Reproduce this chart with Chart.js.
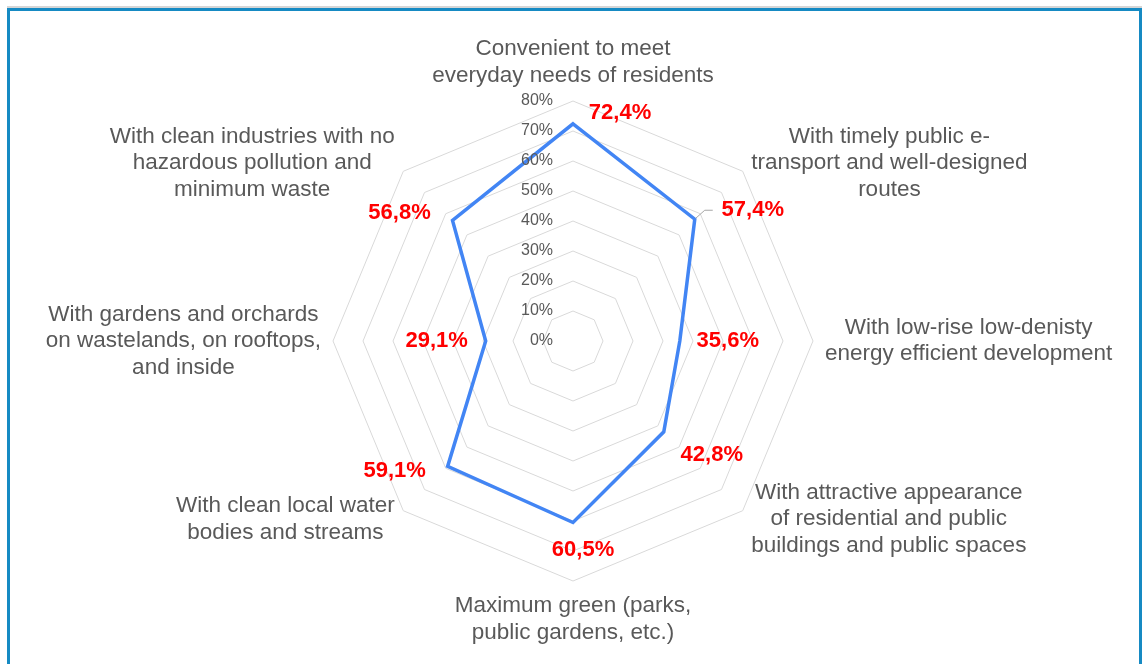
<!DOCTYPE html>
<html>
<head>
<meta charset="utf-8">
<script src="https://cdn.jsdelivr.net/npm/chart.js@4.4.0/dist/chart.umd.min.js"></script>
<style>
  html, body { margin: 0; padding: 0; background: #fff; overflow: hidden; }
  #wrap { position: relative; width: 1144px; height: 664px; }
  #frame { position: absolute; left: 7px; top: 8px; width: 1129px; height: 700px;
           border: 3px solid #168ac3; box-shadow: 0 -2px 0 #d6d6d6; }
  canvas { position: absolute; left: 0; top: 0; }
</style>
</head>
<body>
<div id="wrap">
  <div id="frame"></div>
  <canvas id="radar" width="1144" height="664"></canvas>
</div>
<script>
'use strict';

// ── Data ─────────────────────────────────────────────────────────
const categories = [
  ['Convenient to meet', 'everyday needs of residents'],
  ['With timely public e-', 'transport and well-designed', 'routes'],
  ['With low-rise low-denisty', 'energy efficient development'],
  ['With attractive appearance', 'of residential and public', 'buildings and public spaces'],
  ['Maximum green (parks,', 'public gardens, etc.)'],
  ['With clean local water', 'bodies and streams'],
  ['With gardens and orchards', 'on wastelands, on rooftops,', 'and inside'],
  ['With clean industries with no', 'hazardous pollution and', 'minimum waste']
];
const shares = [72.4, 57.4, 35.6, 42.8, 60.5, 59.1, 29.1, 56.8];
const scaleMin = 0, scaleMax = 80, scaleStep = 10;

// value label offsets from each vertex (px) and which ones get a leader line
const labelOffsets = [[47, -11], [58, -9], [48, 0], [48, 23], [10, 27], [-53, 5], [-49, 0], [-53, -8]];
const leaderLines = [1];

const FONT = '"Liberation Sans", Arial, sans-serif';
const GREY = '#595959';

const fmt = v => v.toFixed(1).replace('.', ',') + '%';

// ── Axis text: tick labels left of the vertical axis, centred category labels ──
const axisText = {
  id: 'axisText',
  afterDraw(chart) {
    const r = chart.scales.r, ctx = chart.ctx;
    ctx.save();
    ctx.fillStyle = GREY;
    ctx.font = `16px ${FONT}`;
    ctx.textAlign = 'right';
    ctx.textBaseline = 'middle';
    r.ticks.forEach(t => {
      const y = r.yCenter - r.getDistanceFromCenterForValue(t.value);
      ctx.fillText(t.value + '%', r.xCenter - 20, y);
    });

    ctx.font = `22.5px ${FONT}`;
    ctx.textAlign = 'center';
    const lh = 26.5;
    categories.forEach((lines, i) => {
      const p = r.getPointPosition(i, r.drawingArea + 12);
      const w = Math.max(...lines.map(s => ctx.measureText(s).width));
      const h = lines.length * lh;
      const ang = i * 360 / categories.length;
      let cx, top;
      if (ang === 0)        { cx = p.x;       top = p.y - h; }
      else if (ang === 180) { cx = p.x;       top = p.y; }
      else if (ang < 180)   { cx = p.x + w/2; top = p.y - h/2; }
      else                  { cx = p.x - w/2; top = p.y - h/2; }
      lines.forEach((s, k) => ctx.fillText(s, cx, top + lh * (k + 0.5)));
    });
    ctx.restore();
  }
};

// ── Red value labels next to each vertex ─────────────────────────
const valueText = {
  id: 'valueText',
  afterDatasetsDraw(chart) {
    const meta = chart.getDatasetMeta(0), ctx = chart.ctx;
    ctx.save();
    meta.data.forEach((pt, i) => {
      const [dx, dy] = labelOffsets[i];
      if (leaderLines.includes(i)) {
        ctx.strokeStyle = '#a6a6a6';
        ctx.lineWidth = 1;
        ctx.beginPath();
        ctx.moveTo(pt.x + 1, pt.y - 1);
        ctx.lineTo(pt.x + 10, pt.y + dy);
        ctx.lineTo(pt.x + 18, pt.y + dy);
        ctx.stroke();
      }
      ctx.font = `bold 22px ${FONT}`;
      ctx.fillStyle = '#ff0000';
      ctx.textAlign = 'center';
      ctx.textBaseline = 'middle';
      ctx.fillText(fmt(shares[i]), pt.x + dx, pt.y + dy);
    });
    ctx.restore();
  }
};

new Chart(document.getElementById('radar').getContext('2d'), {
  type: 'radar',
  data: {
    labels: categories,
    datasets: [{
      data: shares,
      borderColor: '#4285f4',
      borderWidth: 3.5,
      pointRadius: 0,
      pointHoverRadius: 0,
      fill: false,
      tension: 0
    }]
  },
  options: {
    responsive: false,
    animation: false,
    layout: { padding: { left: 2, right: 0, top: 101, bottom: 83 } },
    scales: {
      r: {
        min: scaleMin, max: scaleMax,
        ticks: { stepSize: scaleStep, display: false },
        grid: { color: '#d9d9d9', lineWidth: 1 },
        angleLines: { display: false },
        pointLabels: { display: false }
      }
    },
    plugins: { legend: { display: false }, tooltip: { enabled: false } }
  },
  plugins: [axisText, valueText]
});
</script>
</body>
</html>
